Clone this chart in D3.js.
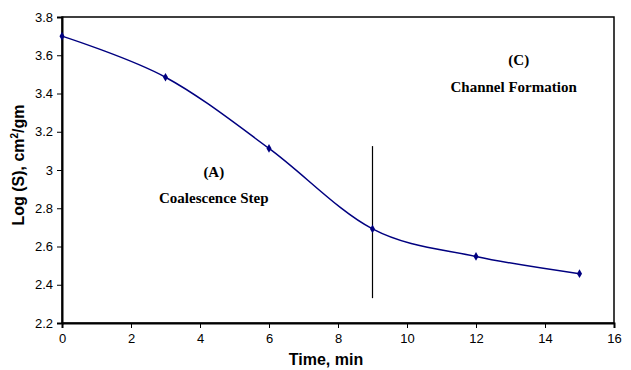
<!DOCTYPE html>
<html>
<head>
<meta charset="utf-8">
<script src="https://cdn.jsdelivr.net/npm/d3@7"></script>
<style>
  body { margin: 0; background: #fff; }
  svg { display: block; }
</style>
</head>
<body>
<svg id="svg"></svg>
<script>
// Chart values
const times = [0, 3, 6, 9, 12, 15];
const logS = [3.70, 3.485, 3.113, 2.692, 2.548, 2.458];
const xTicks = [0, 2, 4, 6, 8, 10, 12, 14, 16];
const yTicks = [2.2, 2.4, 2.6, 2.8, 3, 3.2, 3.4, 3.6, 3.8];
// boundary line between the two stages
const boundaryX = 9;
const boundaryY = [2.33, 3.125];
const notes = [
    { x: 4.4, y: 2.98, text: "(A)" },
    { x: 4.4, y: 2.848, text: "Coalescence Step" },
    { x: 13.24, y: 3.565, text: "(C)" },
    { x: 13.09, y: 3.426, text: "Channel Formation" }
];

const width = 631;
const height = 370;
const margin = { top: 17, right: 17, bottom: 47, left: 62 };
const chartWidth = width - margin.left - margin.right;
const chartHeight = height - margin.top - margin.bottom;

let svg = d3.select("#svg").attr("width", width).attr("height", height);

let chart = svg.append("g")
    .attr("transform", "translate(" + margin.left + "," + margin.top + ")");

let x = d3.scaleLinear().domain([0, 16]).range([0, chartWidth]);
let y = d3.scaleLinear().domain([2.2, 3.8]).range([chartHeight, 0]);

// plot frame
chart.append("rect")
    .attr("width", chartWidth)
    .attr("height", chartHeight)
    .attr("fill", "none")
    .attr("stroke", "#000")
    .attr("stroke-width", 1.5);

// axes
let xAxis = chart.append("g")
    .attr("transform", "translate(0," + chartHeight + ")")
    .call(d3.axisBottom(x).tickValues(xTicks).tickSize(5).tickFormat(d3.format("d")));

let yAxis = chart.append("g")
    .call(d3.axisLeft(y).tickValues(yTicks).tickSize(5).tickFormat(d => String(+d.toFixed(1))));

for (let ax of [xAxis, yAxis]) {
    ax.select(".domain").attr("stroke", "#000").attr("stroke-width", 2);
    ax.selectAll(".tick line").attr("stroke", "#000");
    ax.selectAll("text")
        .style("font-family", "Liberation Sans, Arial, sans-serif")
        .style("font-size", "13px")
        .attr("fill", "#000");
}
xAxis.selectAll("text").attr("dy", "0.9em");
yAxis.selectAll("text").attr("dx", "-1px");

// axis titles
svg.append("text")
    .attr("x", 326)
    .attr("y", 365)
    .attr("text-anchor", "middle")
    .style("font-family", "Liberation Sans, Arial, sans-serif")
    .style("font-size", "16px")
    .style("font-weight", "bold")
    .text("Time, min");

let yTitle = svg.append("text")
    .attr("transform", "translate(24,165) rotate(-90)")
    .attr("text-anchor", "middle")
    .style("font-family", "Liberation Sans, Arial, sans-serif")
    .style("font-size", "16px")
    .style("font-weight", "bold");
yTitle.append("tspan").text("Log (S), cm");
yTitle.append("tspan").attr("dy", "-6").style("font-size", "10px").text("2");
yTitle.append("tspan").attr("dy", "6").text("/gm");

// stage boundary
chart.append("line")
    .attr("x1", x(boundaryX)).attr("x2", x(boundaryX))
    .attr("y1", y(boundaryY[0])).attr("y2", y(boundaryY[1]))
    .attr("stroke", "#000")
    .attr("stroke-width", 1.2);

// smoothed line
let points = times.map((t, i) => [t, logS[i]]);
let line = d3.line()
    .x(d => x(d[0]))
    .y(d => y(d[1]))
    .curve(d3.curveCardinal.tension(0));

chart.append("path")
    .datum(points)
    .attr("d", line)
    .attr("fill", "none")
    .attr("stroke", "#000080")
    .attr("stroke-width", 1.5);

chart.selectAll(".marker")
    .data(points)
    .enter()
    .append("path")
    .attr("class", "marker")
    .attr("transform", d => "translate(" + x(d[0]) + "," + y(d[1]) + ")")
    .attr("d", d3.symbol().type(d3.symbolDiamond).size(22))
    .attr("fill", "#000080");

// stage notes
chart.selectAll(".note")
    .data(notes)
    .enter()
    .append("text")
    .attr("class", "note")
    .attr("x", d => x(d.x))
    .attr("y", d => y(d.y))
    .attr("text-anchor", "middle")
    .attr("dominant-baseline", "middle")
    .style("font-family", "Liberation Serif, Times New Roman, serif")
    .style("font-size", "15px")
    .style("font-weight", "bold")
    .text(d => d.text);
</script>
</body>
</html>
